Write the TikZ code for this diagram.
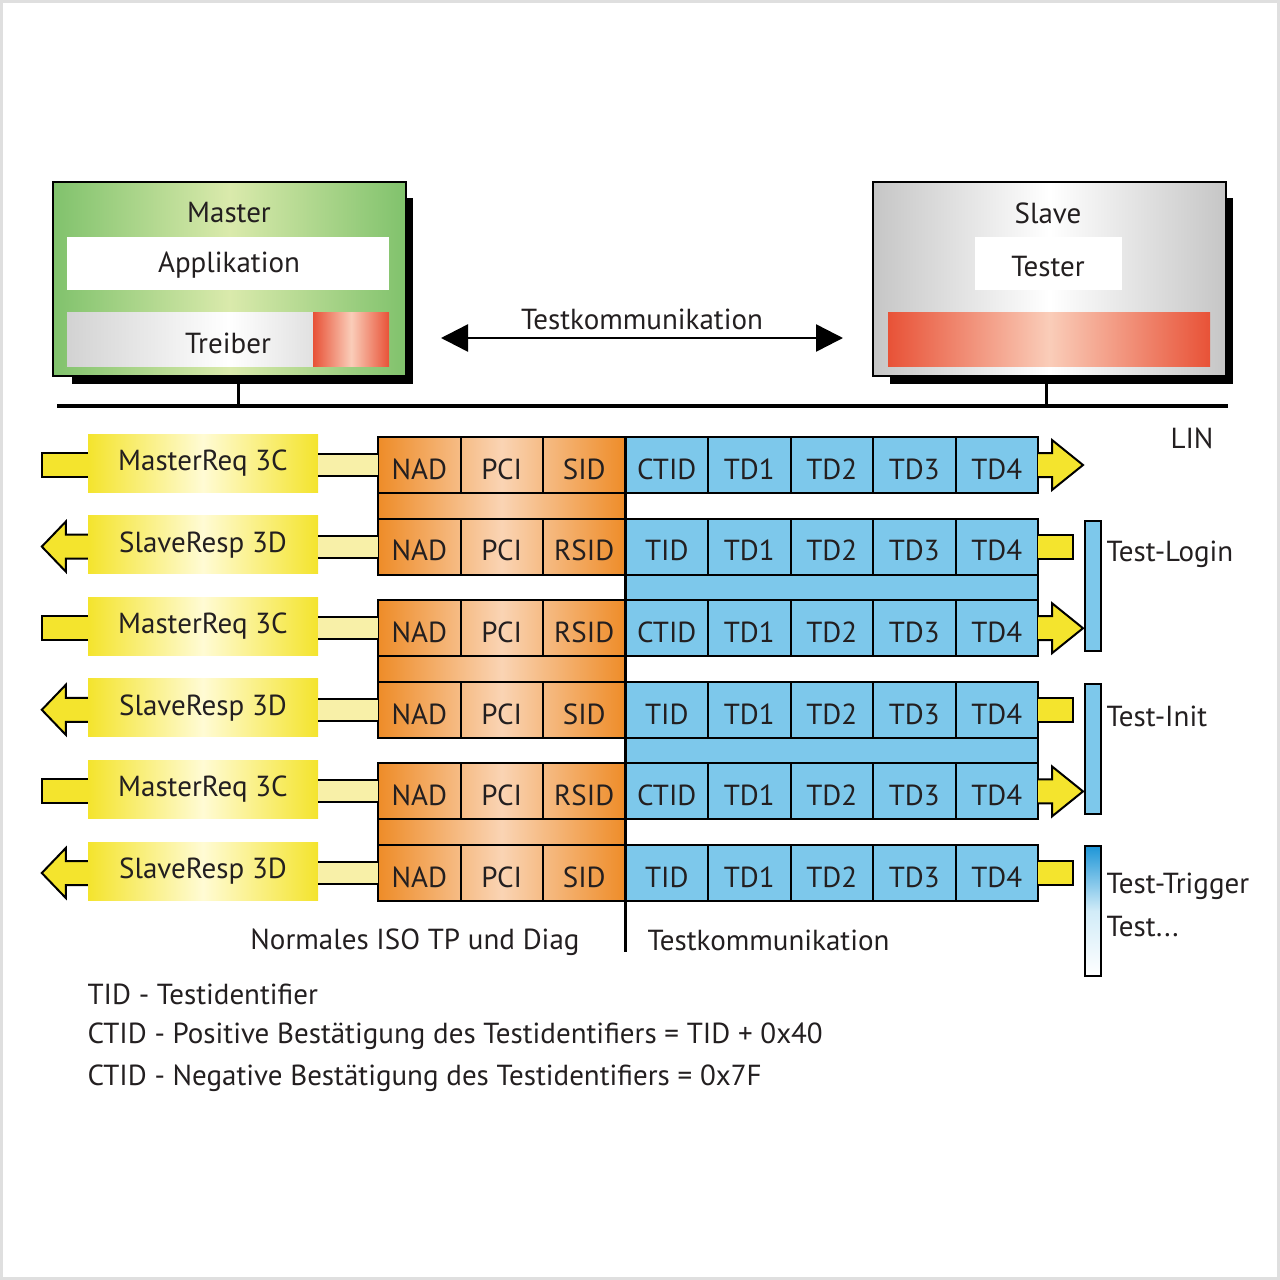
\documentclass[tikz,border=0pt]{standalone}
\usepackage{fontspec}
\setmainfont{PT Sans}
\usetikzlibrary{arrows.meta,positioning}
\definecolor{linyellow}{RGB}{244,228,45}
\definecolor{linpale}{RGB}{255,251,212}
\definecolor{linshaft}{RGB}{248,240,168}
\definecolor{linorange}{RGB}{238,140,40}
\definecolor{linpeach}{RGB}{250,212,180}
\definecolor{linblue}{RGB}{125,200,235}
\definecolor{lintrig}{RGB}{30,150,215}
\definecolor{lingreen}{RGB}{128,194,108}
\definecolor{linlime}{RGB}{218,234,172}
\definecolor{linred}{RGB}{232,82,55}
\definecolor{linrose}{RGB}{250,205,185}
\definecolor{lintext}{RGB}{35,31,32}
\tikzset{
  cell/.style={draw=black,line width=2pt,minimum width=82.5pt,minimum height=56pt,
    inner sep=0pt,outer sep=0pt,anchor=west,text height=28.5pt,text depth=0pt},
  reqbox/.style={left color=linyellow,right color=linyellow,middle color=linpale,
    minimum width=230pt,minimum height=58pt,inner sep=0pt},
  yshaft/.style={draw=black,line width=2pt,fill=linyellow},
  pshaft/.style={draw=black,line width=2pt,double=linshaft,double distance=20pt},
  testbar/.style={draw=black,line width=2pt,fill=linblue,minimum width=16pt,
    minimum height=130pt,inner sep=0pt,anchor=north west},
}

\begin{document}
\begin{tikzpicture}[x=1pt,y=-1pt,every node/.style={font=\fontsize{29}{34}\selectfont,text=lintext}]
\useasboundingbox (0,0) rectangle (1280,1280);
\draw[gray!25,line width=3pt] (1.5,1.5) rectangle (1278.5,1278.5);
%
% Master und Slave
\fill[black] (72,198) rectangle (413,384);
\node (master) [draw=black,line width=2pt,anchor=north west,minimum width=353pt,minimum height=194pt,
  left color=lingreen,right color=lingreen,middle color=linlime] at (52,181) {};
\node at (229,213) {Master};
\node (appl) [fill=white,anchor=north west,minimum width=322pt,minimum height=53pt] at (67,237) {};
\node at (229,265) {Applikation};
\node (treiber) [anchor=north west,minimum width=322pt,minimum height=54pt,
  left color=gray!35,right color=gray!45,middle color=white] at (67,312) {};
\node (treibred) [anchor=north west,minimum width=76pt,minimum height=54pt,
  left color=linred,right color=linred,middle color=linrose] at (313,312) {};
\node at (228,343) {Treiber};
%
\fill[black] (890,198) rectangle (1233,384);
\node (slave) [draw=black,line width=2pt,anchor=north west,minimum width=353pt,minimum height=194pt,
  left color=gray!45,right color=gray!45,middle color=white] at (872,181) {};
\node at (1048,213) {Slave};
\node (tester) [fill=white,anchor=north west,minimum width=147pt,minimum height=53pt] at (975,237) {};
\node at (1048,267) {Tester};
\node (slavered) [anchor=north west,minimum width=322pt,minimum height=54pt,
  left color=linred,right color=linred,middle color=linrose] at (888,312) {};
%
% LIN
\coordinate (linW) at (57,406);
\coordinate (linE) at (1228,406);
\coordinate (linM) at (238,406);
\coordinate (linS) at (1046,406);
\draw[line width=3.5pt] (linW) -- (linE);
\draw[line width=3pt] (linM |- master.south) -- (linM);
\draw[line width=3pt] (linS |- slave.south) -- (linS);
\node at (1192,438) {LIN};
%
\coordinate (tkW) at (441,338);
\coordinate (tkE) at (843,338);
\draw[line width=2.5pt,{Triangle[length=27pt,width=27pt]}-{Triangle[length=27pt,width=27pt]}]
  (tkW) -- node[above=4pt] {Testkommunikation} (tkE);
%
% Hintergrund der Botschaften
\foreach \r in {1,3,5} {
  \pgfmathsetmacro\yt{437+(\r-1)*81.6}
  \draw[line width=2pt,left color=linorange,right color=linorange,middle color=linpeach]
    (378,\yt) rectangle (625.5,\yt+137.6);
}
\foreach \t/\h in {437/56,518.6/137.6,681.8/137.6,845/56}
  \filldraw[fill=linblue,line width=2pt] (625.5,\t) rectangle (1038,\t+\h);
%
\foreach \r/\sid/\tid/\lab in {1/SID/CTID/MasterReq 3C,2/RSID/TID/SlaveResp 3D,3/RSID/CTID/MasterReq 3C,
    4/SID/TID/SlaveResp 3D,5/RSID/CTID/MasterReq 3C,6/SID/TID/SlaveResp 3D} {
  \pgfmathsetmacro\yc{465+(\r-1)*81.6}
  \node[cell] (nad\r) at (378,\yc) {NAD};
  \node[cell,right=0pt of nad\r] (pci\r) {PCI};
  \node[cell,right=0pt of pci\r] (sid\r) {\sid};
  \node[cell,right=0pt of sid\r] (tid\r) {\tid};
  \node[cell,right=0pt of tid\r] (tda\r) {TD1};
  \node[cell,right=0pt of tda\r] (tdb\r) {TD2};
  \node[cell,right=0pt of tdb\r] (tdc\r) {TD3};
  \node[cell,right=0pt of tdc\r] (tdd\r) {TD4};
  \node[reqbox] (lab\r) at (203,\yc-2) {\lab};
  \draw[pshaft] (lab\r.east |- nad\r.west) -- (nad\r.west);
}
% MasterReq
\foreach \r in {1,3,5} {
  \filldraw[yshaft] ([yshift=12pt]lab\r.west |- nad\r.west) -- ++(-46,0) -- ++(0,24) -- ++(46,0);
  \filldraw[yshaft] ([yshift=12pt]tdd\r.east) -- ++(14,0) -- ++(0,-13) -- ++(31,25)
    -- ++(-31,25) -- ++(0,-13) -- ++(-14,0);
}
% SlaveResp
\foreach \r in {2,4,6} {
  \filldraw[yshaft] ([yshift=12pt]lab\r.west |- nad\r.west) -- ++(-22,0) -- ++(0,-13) -- ++(-24,25)
    -- ++(24,25) -- ++(0,-13) -- ++(22,0);
  \filldraw[yshaft] ([yshift=12pt]tdd\r.east) -- ++(35,0) -- ++(0,24) -- ++(-35,0);
}
%
\draw[line width=3pt] (tid1.north west) -- (tid1.north west |- 0,952);
\node[anchor=east] at (583,942) {Normales ISO TP und Diag};
\node[anchor=west] at (644,940) {Testkommunikation};
%
\node (login) [testbar] at (1084,520) {};
\node (init) [testbar] at (1084,683) {};
\node (trigger) [testbar,top color=lintrig,bottom color=white,middle color=linblue!35] at (1084,845) {};
\node[anchor=west] at (1103,554) {Test-Login};
\node[anchor=west] at (1103,716) {Test-Init};
\node[anchor=west] at (1103,886) {Test-Trigger};
\node[anchor=west] at (1103,927) {Test...};
%
\node[anchor=west] at (84,994) {TID - Testidentifier};
\node[anchor=west] at (84,1036) {CTID - Positive Bestätigung des Testidentifiers = TID + 0x40};
\node[anchor=west] at (84,1078) {CTID - Negative Bestätigung des Testidentifiers = 0x7F};
\end{tikzpicture}
\end{document}
